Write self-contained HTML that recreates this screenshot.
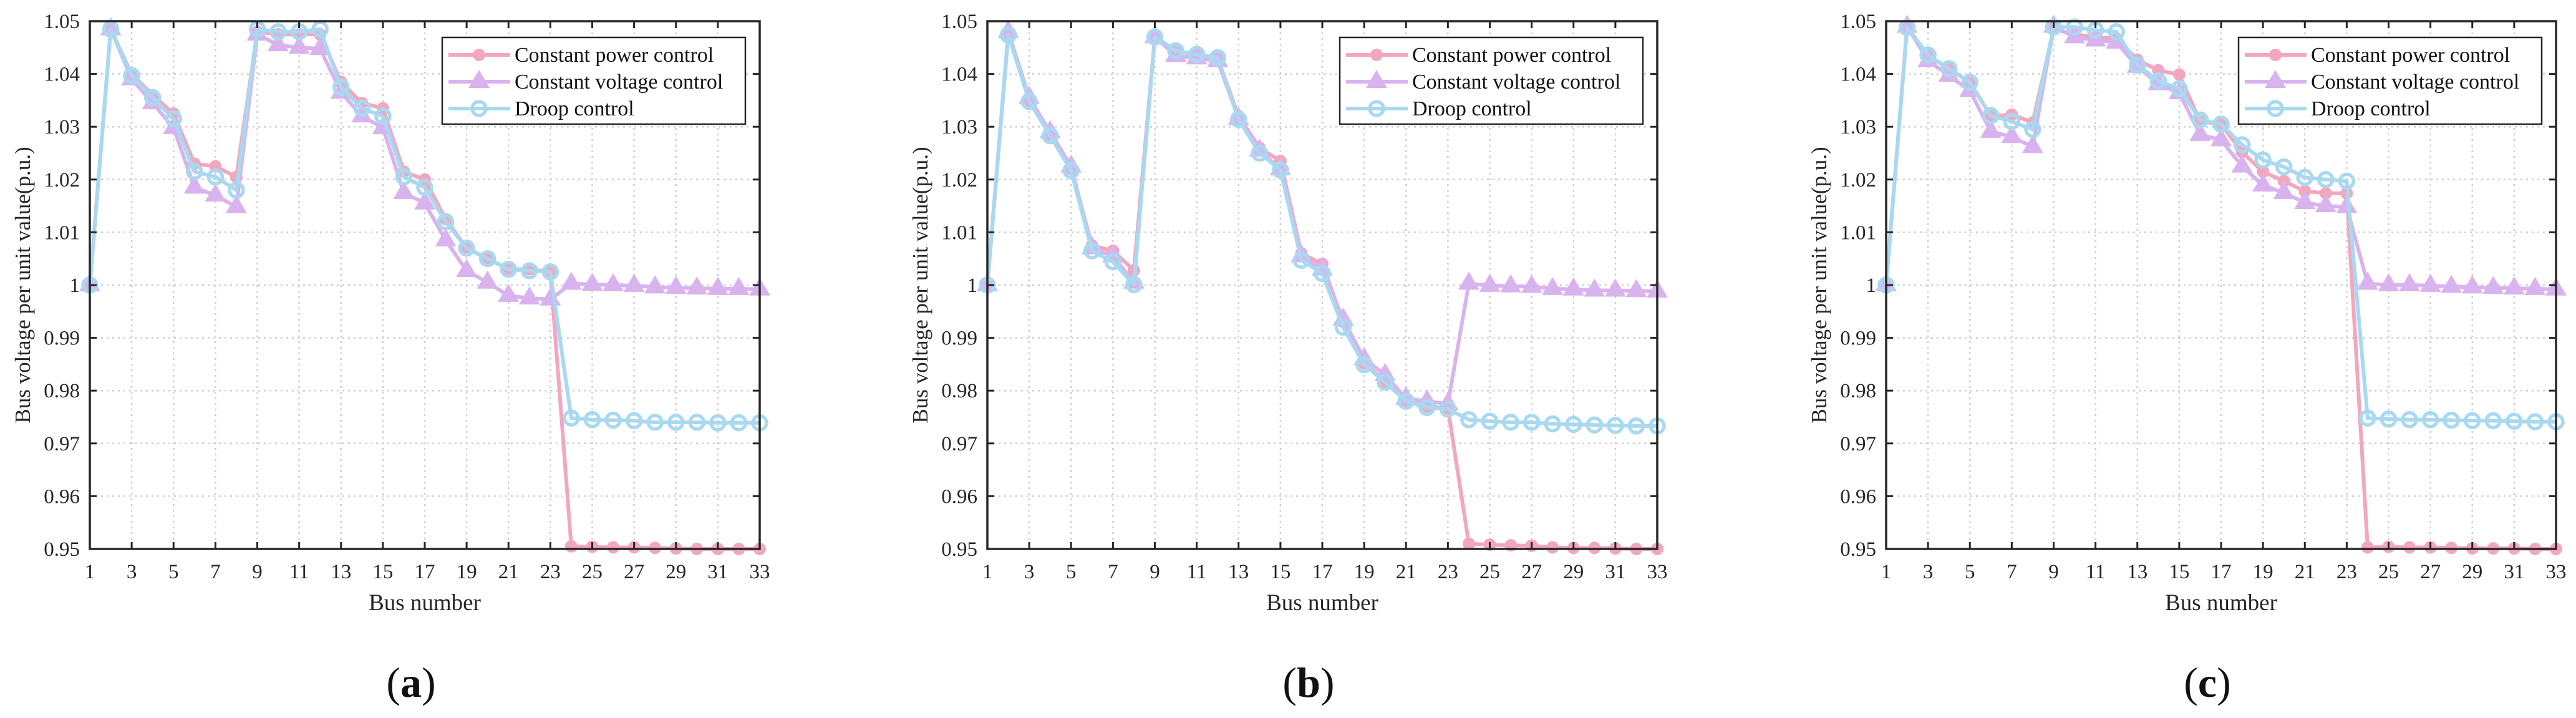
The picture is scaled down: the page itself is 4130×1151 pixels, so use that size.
<!DOCTYPE html>
<html><head><meta charset="utf-8"><style>
html,body{margin:0;padding:0;background:#fff;}
svg{display:block;font-family:"Liberation Serif",serif;}
</style></head><body>
<svg id="fig" width="4130" height="1151" viewBox="0 0 4130 1151" xmlns="http://www.w3.org/2000/svg"></svg>
<script>
const buses = Array.from({length:33},(_,i)=>i+1);
const xTicks = [1,3,5,7,9,11,13,15,17,19,21,23,25,27,29,31,33];
const yTicks = [0.95,0.96,0.97,0.98,0.99,1,1.01,1.02,1.03,1.04,1.05];
const yTickLabels = ["0.95","0.96","0.97","0.98","0.99","1","1.01","1.02","1.03","1.04","1.05"];
const seriesNames = ["Constant power control","Constant voltage control","Droop control"];

const powerA = [1.000,1.0485,1.040,1.036,1.0325,1.023,1.0225,1.0205,1.048,1.0475,1.0475,1.0475,1.0385,1.0345,1.0335,1.0215,1.020,1.0125,1.007,1.005,1.003,1.003,1.0025,0.9505,0.9504,0.9503,0.9503,0.9502,0.9501,0.950,0.950,0.950,0.950];
const voltageA = [1.000,1.0485,1.039,1.0345,1.0298,1.0185,1.017,1.0148,1.0475,1.0455,1.045,1.0448,1.0365,1.032,1.0298,1.0175,1.0155,1.0085,1.0027,1.0005,0.998,0.9975,0.9973,1.0003,1.0001,1.000,0.9999,0.9996,0.9995,0.9994,0.9993,0.9993,0.9992];
const droopA = [1.000,1.0485,1.0397,1.0355,1.0315,1.0215,1.0205,1.018,1.0485,1.048,1.048,1.0485,1.0375,1.0335,1.032,1.0205,1.0185,1.012,1.007,1.005,1.003,1.0027,1.0025,0.9748,0.9745,0.9744,0.9743,0.974,0.974,0.974,0.9739,0.9739,0.9739];

const powerB = [1.000,1.0475,1.035,1.0285,1.022,1.0075,1.0065,1.0028,1.047,1.0445,1.0435,1.043,1.032,1.026,1.0235,1.006,1.004,0.993,0.9852,0.9818,0.978,0.977,0.9767,0.951,0.9508,0.9507,0.9506,0.9503,0.9502,0.9502,0.9501,0.950,0.950];
const voltageB = [1.000,1.048,1.0355,1.029,1.0225,1.007,1.0055,1.0005,1.047,1.0435,1.043,1.0425,1.0315,1.0255,1.022,1.0055,1.003,0.9935,0.986,0.983,0.9785,0.978,0.9775,1.0003,0.9999,0.9998,0.9997,0.9993,0.9992,0.999,0.999,0.9989,0.9988];
const droopB = [1.000,1.0474,1.0348,1.0283,1.0217,1.0065,1.0044,1.0001,1.047,1.0444,1.0437,1.0431,1.0314,1.025,1.0218,1.0047,1.0022,0.992,0.9849,0.9816,0.978,0.9768,0.9765,0.9745,0.9742,0.974,0.974,0.9737,0.9736,0.9735,0.9734,0.9733,0.9733];

const powerC = [1.000,1.049,1.0435,1.041,1.0385,1.032,1.0323,1.0308,1.0485,1.0475,1.047,1.0467,1.0427,1.0407,1.0399,1.031,1.0305,1.0252,1.0215,1.0197,1.0178,1.0174,1.0174,0.9503,0.9504,0.9503,0.9503,0.9502,0.9501,0.9501,0.9501,0.950,0.950];
const voltageC = [1.000,1.049,1.0425,1.0397,1.0368,1.0291,1.0281,1.0262,1.049,1.047,1.0464,1.046,1.0414,1.0381,1.0364,1.0285,1.0275,1.0225,1.0189,1.0175,1.0156,1.015,1.0148,1.0003,1.000,1.000,0.9999,0.9997,0.9996,0.9995,0.9994,0.9993,0.9992];
const droopC = [1.000,1.0488,1.0436,1.041,1.0384,1.0321,1.031,1.0295,1.0489,1.0489,1.0483,1.048,1.0417,1.0387,1.0372,1.0313,1.0305,1.0266,1.0237,1.0224,1.0204,1.020,1.0197,0.9748,0.9746,0.9745,0.9745,0.9744,0.9743,0.9743,0.9742,0.9741,0.9741];

const NS = "http://www.w3.org/2000/svg";
const svg = document.getElementById('fig');
function mk(tag, attrs, parent){
  const e = document.createElementNS(NS, tag);
  for (const k in attrs) e.setAttribute(k, attrs[k]);
  (parent||svg).appendChild(e);
  return e;
}
const COLORS = ["#f2a7bf","#d9b3ee","#a8d9f0"];

function drawChart(ox, letter, capX, power, voltage, droop){
  const top = 34, bottom = 880, W = 1074;
  const g = mk('g', {});
  
  
  const xS = v => ox + (v - 1) / 32 * W;
  const yS = v => bottom - (v - 0.95) / 0.1 * (bottom - top);
  // grid
  xTicks.forEach(t => {
    const l = mk('line', {x1:xS(t), x2:xS(t), y1:top, y2:bottom, stroke:'#cfcfcf', 'stroke-width':2.5, 'stroke-dasharray':'3 6'}, g);
    
    
  });
  yTicks.forEach(t => {
    const l = mk('line', {x1:ox, x2:ox+W, y1:yS(t), y2:yS(t), stroke:'#cfcfcf', 'stroke-width':2.5, 'stroke-dasharray':'3 6'}, g);
    
    
  });
  // series
  const sets = [power, voltage, droop];
  sets.forEach((arr, si) => {
    const sg = mk('g', {}, g);
    
    
    const pts = arr.map((v, i) => xS(buses[i]) + ',' + yS(v)).join(' ');
    const pl = mk('polyline', {points:pts, fill:'none', stroke:COLORS[si], 'stroke-width':6, 'stroke-linejoin':'round'}, sg);
    
    
    arr.forEach((v, i) => {
      const x = xS(buses[i]), y = yS(v);
      let m;
      if (si === 0) m = mk('circle', {cx:x, cy:y, r:10, fill:COLORS[0]}, sg);
      else if (si === 1) m = mk('polygon', {points:`${x},${y-19} ${x-17},${y+10} ${x+17},${y+10}`, fill:COLORS[1]}, sg);
      else m = mk('circle', {cx:x, cy:y, r:11, fill:'none', stroke:COLORS[2], 'stroke-width':5.5}, sg);
      
      
    });
  });
  // axes box
  const box = mk('rect', {x:ox, y:top, width:W, height:bottom-top, fill:'none', stroke:'#262626', 'stroke-width':3.5}, g);
  
  
  // ticks
  xTicks.forEach(t => {
    mk('line', {x1:xS(t), x2:xS(t), y1:bottom, y2:bottom-11, stroke:'#262626', 'stroke-width':3}, g);
    mk('line', {x1:xS(t), x2:xS(t), y1:top, y2:top+11, stroke:'#262626', 'stroke-width':3}, g);
    const tx = mk('text', {x:xS(t), y:927, 'font-size':33, 'text-anchor':'middle', fill:'#262626'}, g);
    tx.textContent = t;
    
    
  });
  yTicks.forEach((t, i) => {
    mk('line', {x1:ox, x2:ox+11, y1:yS(t), y2:yS(t), stroke:'#262626', 'stroke-width':3}, g);
    mk('line', {x1:ox+W, x2:ox+W-11, y1:yS(t), y2:yS(t), stroke:'#262626', 'stroke-width':3}, g);
    const tx = mk('text', {x:ox-16, y:yS(t)+11, 'font-size':33, 'text-anchor':'end', fill:'#262626'}, g);
    tx.textContent = yTickLabels[i];
    
    
  });
  // axis titles
  const xt = mk('text', {x:ox+W/2, y:978, 'font-size':37, 'text-anchor':'middle', fill:'#262626'}, g);
  xt.textContent = 'Bus number';
  
  
  const cy = (top+bottom)/2;
  const yt = mk('text', {x:0, y:0, 'font-size':35, 'text-anchor':'middle', fill:'#262626', transform:`translate(${ox-96},${cy}) rotate(-90)`}, g);
  yt.textContent = 'Bus voltage per unit value(p.u.)';
  
  
  // legend
  const lg = mk('g', {}, g);
  
  
  mk('rect', {x:ox+565, y:60, width:486, height:139, fill:'#fff', stroke:'#262626', 'stroke-width':2.5}, lg);
  [88,131,174].forEach((ly, si) => {
    const e = mk('g', {}, lg);
    
    
    mk('line', {x1:ox+575, x2:ox+674, y1:ly, y2:ly, stroke:COLORS[si], 'stroke-width':6}, e);
    const mx = ox+624;
    if (si === 0) mk('circle', {cx:mx, cy:ly, r:10, fill:COLORS[0]}, e);
    else if (si === 1) mk('polygon', {points:`${mx},${ly-19} ${mx-17},${ly+10} ${mx+17},${ly+10}`, fill:COLORS[1]}, e);
    else mk('circle', {cx:mx, cy:ly, r:11, fill:'none', stroke:COLORS[2], 'stroke-width':5.5}, e);
    const t = mk('text', {x:ox+681, y:ly+11, 'font-size':34, fill:'#111'}, e);
    t.textContent = seriesNames[si];
  });
  // caption
  const cap = mk('text', {x:capX, y:1117, 'font-size':68, 'text-anchor':'middle', fill:'#111'}, g);
  
  
  cap.innerHTML = '(<tspan font-weight="bold">' + letter + '</tspan>)';
}

drawChart(144, 'a', 659, powerA, voltageA, droopA);
drawChart(1583, 'b', 2098, powerB, voltageB, droopB);
drawChart(3024, 'c', 3539, powerC, voltageC, droopC);
</script>
</body></html>
